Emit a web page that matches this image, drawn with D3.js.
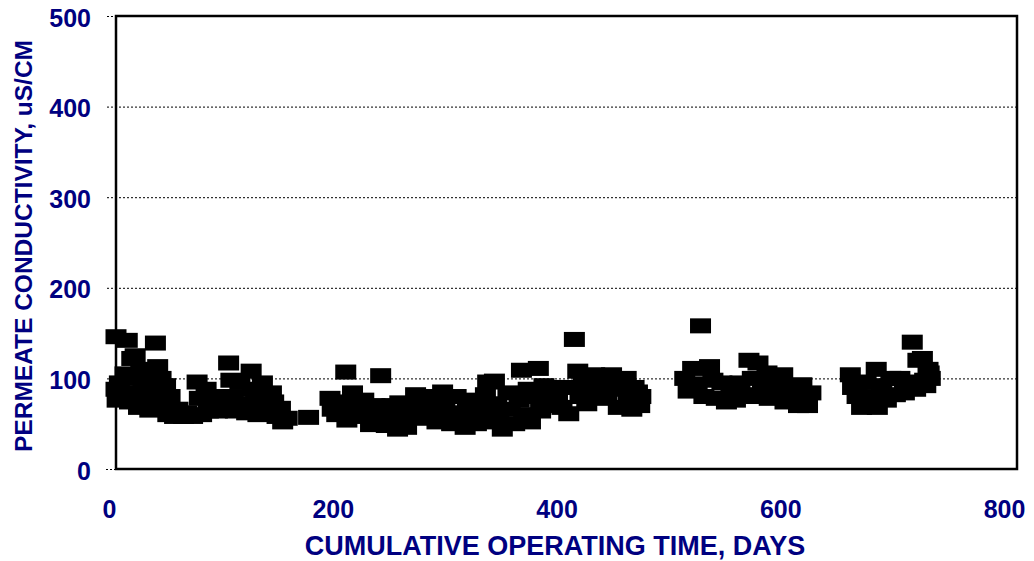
<!doctype html>
<html lang="en">
<head>
  <meta charset="utf-8">
  <title>Permeate conductivity</title>
  <script src="https://cdn.jsdelivr.net/npm/d3@7"></script>
  <style>
    body { margin: 0; background: #fff; }
    text { font-family: "Liberation Sans", Arial, sans-serif; font-weight: bold; fill: #000080; }
    .grid line { stroke: #000; stroke-dasharray: 2,2; stroke-width: 1; }
    .grid path { display: none; }
  </style>
</head>
<body>
<div id="chart"></div>
<script>
// operating run 1
var run1Days = [0, 0, 1, 3, 5, 10, 8, 12, 14, 17, 16, 18, 20, 22, 24, 26, 30, 32, 35, 37, 38, 40, 42, 44, 46, 48,
  52, 55, 60, 63, 68, 72, 74, 76, 80, 82, 85, 88, 90, 93, 95, 98, 100, 102, 104, 106, 110, 112, 116, 120, 122, 124, 126,
  130, 132, 135, 138, 140, 143, 146, 148, 152, 171];
var run1Cond = [146, 88, 76, 95, 80, 142, 105, 74, 122, 125, 100, 84, 68, 110, 92, 78, 65, 96, 139, 113, 82, 100, 70, 92, 60, 80,
  58, 66, 58, 62, 58, 96, 78, 60, 88, 64, 72, 80, 64, 75, 70, 66, 117, 98, 80, 64, 96, 72, 62, 108, 88, 76, 60,
  95, 70, 62, 84, 74, 58, 67, 52, 56, 57];

// operating run 2
var run2Days = [190, 192, 196, 200, 204, 205, 210, 212, 215, 220, 222, 226, 230, 232, 235, 238, 240, 245, 247, 250,
  252, 255, 258, 262, 266, 268, 272, 275, 280, 283, 285, 290, 292, 295, 298, 302, 305, 310, 312, 315, 318, 320,
  325, 328, 330, 332, 336, 338, 340, 343, 348, 350, 354, 358, 360, 362, 366, 368, 372, 375, 377, 380, 383, 386,
  390, 392, 396, 400, 402, 407, 410, 412, 415, 418, 422, 425, 428, 432, 436, 440, 443, 446, 450, 453, 455, 458,
  460, 463, 465, 466];
var run2Cond = [78, 66, 60, 74, 107, 54, 84, 68, 58, 76, 62, 49, 70, 56, 103, 66, 48, 70, 58, 44,
  73, 60, 46, 66, 82, 56, 70, 60, 80, 66, 52, 85, 70, 56, 50, 80, 62, 46, 72, 56, 76, 50,
  66, 82, 96, 52, 97, 72, 60, 44, 84, 66, 50, 76, 109, 60, 88, 52, 80, 111, 64, 92, 76, 70,
  90, 80, 68, 90, 61, 143, 108, 80, 94, 72, 88, 104, 78, 92, 80, 104, 88, 68, 96, 100, 80, 66,
  90, 85, 70, 80];

// operating run 3
var run3Days = [505, 508, 512, 516, 519, 522, 527, 530, 533, 538, 542, 546, 550, 554, 558, 562, 565, 568, 570,
  574, 578, 580, 584, 588, 592, 594, 598, 602, 606, 609, 612, 614, 617];
var run3Cond = [100, 86, 111, 94, 158, 80, 113, 98, 78, 95, 74, 90, 76, 95, 82, 120, 100, 80, 117,
  92, 106, 78, 95, 84, 104, 74, 90, 80, 70, 93, 82, 70, 84];

// operating run 4
var run4Days = [652, 654, 658, 662, 666, 670, 675, 676, 680, 684, 688, 692, 696, 700, 704, 707, 710, 712, 716,
  718, 719, 721, 722, 723];
var run4Cond = [104, 90, 80, 68, 96, 80, 110, 68, 92, 76, 100, 82, 100, 84, 96, 140, 88, 120, 122,
  98, 92, 110, 106, 100];

var xTicks = [0, 200, 400, 600, 800];
var yTicks = [0, 100, 200, 300, 400, 500];

var width = 1034, height = 561;
var plotLeft = 116, plotRight = 1017, plotTop = 16, plotBottom = 469;

var svg = d3.select("#chart").append("svg")
    .attr("width", width)
    .attr("height", height);

var x = d3.scaleLinear().domain([0, 800]).range([plotLeft, plotRight]);
var y = d3.scaleLinear().domain([0, 500]).range([plotBottom, plotTop]);
// the labels sit a little left of their ticks in the original
var xLabel = d3.scaleLinear().domain([0, 800]).range([109, 1004]);

// dotted gridlines with short outside ticks
svg.append("g")
    .attr("class", "grid")
    .attr("transform", "translate(" + plotRight + ",0)")
    .call(d3.axisLeft(y).tickValues(yTicks.slice(1)).tickSize(plotRight - plotLeft + 10).tickFormat(""));
svg.append("g")
    .attr("class", "grid")
    .attr("transform", "translate(" + plotLeft + ",0)")
    .call(d3.axisLeft(y).tickValues([0]).tickSize(10).tickFormat(""));

// y labels
var yAxis = svg.append("g")
    .attr("transform", "translate(91,1)")
    .call(d3.axisLeft(y).tickValues(yTicks).tickSize(0).tickPadding(0));
yAxis.select(".domain").remove();
yAxis.selectAll("text").style("font-size", "25px").attr("fill", "#000080").attr("dy", "0.36em");

// x labels
var xAxis = svg.append("g")
    .attr("transform", "translate(0,500)")
    .call(d3.axisBottom(xLabel).tickValues(xTicks).tickSize(0).tickPadding(0));
xAxis.select(".domain").remove();
xAxis.selectAll("text").style("font-size", "25px").attr("fill", "#000080").attr("dy", "0.72em");

var data = [];
[[run1Days, run1Cond], [run2Days, run2Cond], [run3Days, run3Cond], [run4Days, run4Cond]].forEach(function(r) {
  r[0].forEach(function(d, i) { data.push({day: d, cond: r[1][i]}); });
});

var mw = 21, mh = 15;
svg.append("g").selectAll("rect")
    .data(data)
  .enter().append("rect")
    .attr("x", function(d) { return x(d.day) - mw / 2; })
    .attr("y", function(d) { return y(d.cond) - mh / 2; })
    .attr("width", mw)
    .attr("height", mh)
    .attr("fill", "#000");

// plot frame
svg.append("rect")
    .attr("x", plotLeft).attr("y", plotTop)
    .attr("width", plotRight - plotLeft).attr("height", plotBottom - plotTop)
    .attr("fill", "none")
    .attr("stroke", "#000")
    .attr("stroke-width", 2.5);

svg.append("text")
    .attr("x", 555).attr("y", 555)
    .attr("text-anchor", "middle")
    .style("font-size", "27px")
    .text("CUMULATIVE OPERATING TIME, DAYS");

svg.append("text")
    .attr("transform", "translate(32,246)rotate(-90)")
    .attr("text-anchor", "middle")
    .style("font-size", "24.5px")
    .text("PERMEATE CONDUCTIVITY, uS/CM");
</script>
</body>
</html>
